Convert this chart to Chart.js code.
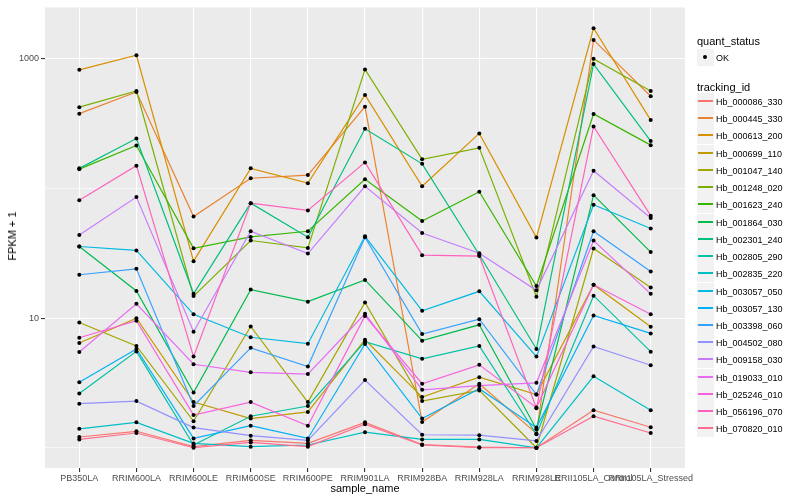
<!DOCTYPE html>
<html>
<head>
<meta charset="utf-8">
<script src="https://cdn.jsdelivr.net/npm/chart.js@4.4.1/dist/chart.umd.min.js"></script>
<style>
body { margin: 0; background: #fff; font-family: "Liberation Sans", Arial, sans-serif; }
#wrap { position: relative; width: 800px; height: 500px; }
#ylab { position: absolute; left: 12px; top: 236px; font-size: 11px; white-space: nowrap; transform: translate(-50%, -50%) rotate(-90deg); }
#xlab { position: absolute; left: 365px; top: 488px; font-size: 11px; white-space: nowrap; transform: translate(-50%, -50%); }
#legend { position: absolute; left: 697px; top: 0; font-size: 9px; color: #000; }
.ltitle { position: absolute; left: 0; font-size: 11px; white-space: nowrap; transform: translateY(-50%); }
.lkey { position: absolute; left: 0; width: 17px; height: 17px; background: #F2F2F2; }
.ltext { position: absolute; left: 19px; white-space: nowrap; transform: translateY(-50%); }
</style>
</head>
<body>
<div id="wrap">
  <canvas id="chart" width="800" height="500"></canvas>
  <div id="ylab">FPKM + 1</div>
  <div id="xlab">sample_name</div>
  <div id="legend"></div>
</div>
<script>
var samples = ['PB350LA', 'RRIM600LA', 'RRIM600LE', 'RRIM600SE', 'RRIM600PE', 'RRIM901LA',
  'RRIM928BA', 'RRIM928LA', 'RRIM928LE', 'RRII105LA_Control', 'RRII105LA_Stressed'];

var yTicks = [1, 10, 100, 1000];
var yLabels = [10, 1000];

// FPKM + 1, one array per gene, in sample order
var hb_000086_330 = [1.21, 1.34, 1.02, 1.14, 1.08, 1.57, 1.06, 1.01, 1.00, 1.95, 1.44];
var hb_000445_330 = [378, 555, 60.7, 120, 127, 428, 1.58, 3.12, 1.29, 1400, 515];
var hb_000613_200 = [823, 1067, 27.5, 143, 110, 527, 104, 266, 41.8, 1722, 337];
var hb_000699_110 = [6.43, 10.0, 2.25, 1.68, 1.89, 6.81, 2.46, 3.50, 2.57, 18.1, 8.58];
var hb_001047_140 = [9.25, 6.10, 1.60, 8.62, 2.25, 13.2, 2.29, 2.77, 1.00, 34.4, 17.2];
var hb_001248_020 = [424, 565, 14.8, 39.7, 34.8, 829, 168, 206, 14.6, 1000, 565];
var hb_001623_240 = [141, 215, 34.6, 42.3, 46.8, 118, 56.1, 94.3, 17.7, 376, 216];
var hb_001864_030 = [35.7, 16.2, 2.67, 16.6, 13.4, 19.7, 6.70, 8.88, 1.39, 88.8, 32.3];
var hb_002301_240 = [143, 243, 15.4, 77.1, 42.1, 289, 155, 30.8, 5.78, 911, 232];
var hb_002805_290 = [2.62, 5.54, 1.05, 1.75, 2.10, 6.58, 4.85, 6.10, 1.27, 14.9, 5.51];
var hb_002835_220 = [1.40, 1.57, 1.08, 1.02, 1.05, 1.32, 1.16, 1.16, 1.00, 3.56, 1.95];
var hb_003057_050 = [35.7, 33.3, 10.7, 7.12, 6.35, 42.8, 11.4, 16.1, 5.05, 75.0, 49.1];
var hb_003057_130 = [3.20, 5.78, 1.18, 1.48, 1.18, 6.32, 1.68, 2.85, 1.43, 10.5, 7.62];
var hb_003398_060 = [21.6, 24.0, 2.10, 5.90, 4.23, 42.1, 7.54, 9.82, 2.57, 46.8, 22.9];
var hb_004502_080 = [2.19, 2.29, 1.43, 1.24, 1.14, 3.33, 1.26, 1.25, 1.13, 6.05, 4.33];
var hb_009158_030 = [43.8, 85.8, 7.85, 46.8, 31.5, 104, 45.4, 31.7, 16.4, 137, 59.2];
var hb_019033_010 = [5.48, 12.9, 4.41, 3.82, 3.70, 10.8, 2.80, 3.02, 3.17, 39.7, 15.4];
var hb_025246_010 = [7.06, 9.54, 1.79, 2.25, 1.48, 10.4, 3.12, 4.36, 2.04, 18.1, 10.7];
var hb_056196_070 = [81.3, 150, 5.05, 77.1, 67.8, 159, 30.6, 30.1, 2.02, 301, 61.7];
var hb_070820_010 = [1.16, 1.30, 1.00, 1.10, 1.02, 1.52, 1.05, 1.00, 1.00, 1.75, 1.30];

var trackingIds = ['Hb_000086_330', 'Hb_000445_330', 'Hb_000613_200', 'Hb_000699_110', 'Hb_001047_140',
  'Hb_001248_020', 'Hb_001623_240', 'Hb_001864_030', 'Hb_002301_240', 'Hb_002805_290',
  'Hb_002835_220', 'Hb_003057_050', 'Hb_003057_130', 'Hb_003398_060', 'Hb_004502_080',
  'Hb_009158_030', 'Hb_019033_010', 'Hb_025246_010', 'Hb_056196_070', 'Hb_070820_010'];
var seriesValues = [hb_000086_330, hb_000445_330, hb_000613_200, hb_000699_110, hb_001047_140,
  hb_001248_020, hb_001623_240, hb_001864_030, hb_002301_240, hb_002805_290,
  hb_002835_220, hb_003057_050, hb_003057_130, hb_003398_060, hb_004502_080,
  hb_009158_030, hb_019033_010, hb_025246_010, hb_056196_070, hb_070820_010];
var colors = ['#F8766D', '#EA8331', '#D89000', '#C09B00', '#A3A500', '#7CAE00', '#39B600', '#00BB4E',
  '#00BF7D', '#00C1A3', '#00BFC4', '#00BAE0', '#00B0F6', '#35A2FF', '#9590FF', '#C77CFF',
  '#E76BF3', '#FA62DB', '#FF62BC', '#FF6C91'];

function toXY(values) {
  return values.map(function(v, i) { return { x: i, y: v }; });
}

var datasets = seriesValues.map(function(values, k) {
  return {
    label: trackingIds[k],
    data: toXY(values),
    borderColor: colors[k],
    borderWidth: 1.2,
    pointRadius: 0,
    fill: false,
    tension: 0,
    order: 40 - k
  };
});
// black points drawn over all lines
datasets.push({
  label: 'OK',
  type: 'scatter',
  data: seriesValues.reduce(function(all, values) { return all.concat(toXY(values)); }, []),
  pointRadius: 2,
  pointBackgroundColor: '#000',
  pointBorderWidth: 0,
  showLine: false,
  order: 0
});

var panelBg = {
  id: 'panelBg',
  beforeDraw: function(chart) {
    var a = chart.chartArea;
    var ctx = chart.ctx;
    ctx.save();
    ctx.fillStyle = '#EBEBEB';
    ctx.fillRect(a.left, a.top, a.right - a.left, a.bottom - a.top);
    ctx.restore();
  }
};

function isLabelled(v) { return yLabels.indexOf(v) >= 0; }

new Chart(document.getElementById('chart').getContext('2d'), {
  type: 'line',
  data: { datasets: datasets },
  plugins: [panelBg],
  options: {
    responsive: false,
    animation: false,
    layout: { padding: { left: 0, top: 5, right: 115, bottom: 0 } },
    plugins: { legend: { display: false }, tooltip: { enabled: false } },
    scales: {
      x: {
        type: 'linear',
        min: -0.6,
        max: samples.length - 1 + 0.6,
        afterBuildTicks: function(scale) {
          scale.ticks = samples.map(function(s, i) { return { value: i }; });
        },
        afterFit: function(scale) { scale.height = 32; },
        border: { display: false },
        grid: { color: '#FFFFFF', lineWidth: 1.1, tickColor: '#333333', tickLength: 4 },
        ticks: {
          autoSkip: false, maxRotation: 0, minRotation: 0, padding: 1,
          color: '#4D4D4D', font: { family: 'Liberation Sans', size: 9 },
          callback: function(v) { return samples[v]; }
        }
      },
      y: {
        type: 'logarithmic',
        min: 0.698,
        max: 2495,
        afterBuildTicks: function(scale) {
          scale.ticks = yTicks.map(function(v) { return { value: v }; });
        },
        afterFit: function(scale) { scale.width = 45; },
        border: { display: false },
        grid: {
          color: '#FFFFFF',
          lineWidth: function(c) { return isLabelled(c.tick.value) ? 1.1 : 0.6; },
          tickColor: function(c) { return isLabelled(c.tick.value) ? '#333333' : 'rgba(0,0,0,0)'; },
          tickLength: 4
        },
        ticks: {
          padding: 2, color: '#4D4D4D', font: { family: 'Liberation Sans', size: 9 },
          callback: function(v) { return isLabelled(v) ? String(v) : ''; }
        }
      }
    }
  }
});

// legend built by hand, ggplot style
var legendDiv = document.getElementById('legend');
function addTitle(text, y) {
  var t = document.createElement('div');
  t.className = 'ltitle';
  t.style.top = y + 'px';
  t.textContent = text;
  legendDiv.appendChild(t);
}
addTitle('quant_status', 41);
var okKey = document.createElement('div');
okKey.className = 'lkey';
okKey.style.top = '49px';
okKey.innerHTML = '<span style="position:absolute;left:6px;top:6px;width:4px;height:4px;border-radius:50%;background:#000;"></span>';
legendDiv.appendChild(okKey);
var okText = document.createElement('div');
okText.className = 'ltext';
okText.style.top = '57.5px';
okText.textContent = 'OK';
legendDiv.appendChild(okText);

addTitle('tracking_id', 87);
trackingIds.forEach(function(id, k) {
  var top = Math.round(93 + k * 17.23);
  var key = document.createElement('div');
  key.className = 'lkey';
  key.style.top = top + 'px';
  key.innerHTML = '<span style="position:absolute;left:1px;top:7px;width:15px;height:2px;background:' + colors[k] + ';"></span>';
  legendDiv.appendChild(key);
  var txt = document.createElement('div');
  txt.className = 'ltext';
  txt.style.top = (top + 8.5) + 'px';
  txt.textContent = id;
  legendDiv.appendChild(txt);
});
</script>
</body>
</html>
